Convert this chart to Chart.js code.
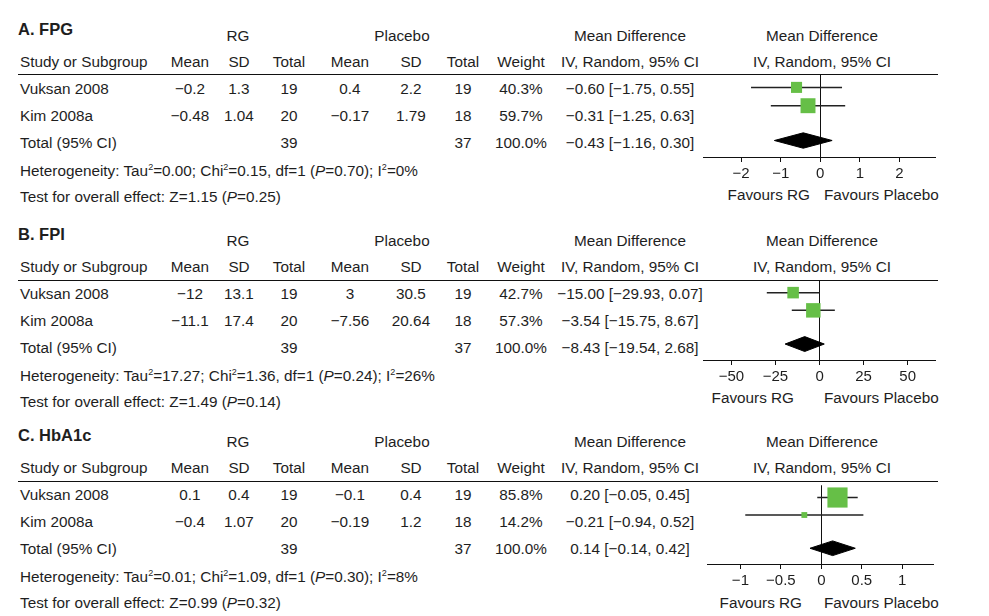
<!DOCTYPE html>
<html>
<head>
<meta charset="utf-8">
<script src="https://cdn.jsdelivr.net/npm/chart.js@4.4.1/dist/chart.umd.min.js"></script>
<style>
body { margin: 0; background: #fff; }
#page { position: relative; width: 989px; height: 616px; overflow: hidden;
        font-family: 'Liberation Sans', Arial, sans-serif; font-size: 15.3px; color: #1e1e1e; }
.t { position: absolute; white-space: nowrap; line-height: 18px; }
.t sup { font-size: 9px; vertical-align: 6px; line-height: 0; }
.rule { position: absolute; height: 1px; background: #111; left: 18px; width: 920px; }
canvas { position: absolute; }
</style>
</head>
<body>
<div id="page"></div>
<script>
const studies = ['Vuksan 2008', 'Kim 2008a']

// A. FPG
const fpgRgMean = [-0.2, -0.48]
const fpgRgSd = [1.3, 1.04]
const fpgRgN = [19, 20]
const fpgPlMean = [0.4, -0.17]
const fpgPlSd = [2.2, 1.79]
const fpgPlN = [19, 18]
const fpgWeight = [40.3, 59.7]
const fpgMd = [-0.60, -0.31]
const fpgLo = [-1.75, -1.25]
const fpgHi = [0.55, 0.63]
const fpgTotal = [-0.43, -1.16, 0.30]
const fpgHet = ['0.00', '0.15', 1, '0.70', 0]
const fpgTest = ['1.15', '0.25']
const fpgTicks = [-2, -1, 0, 1, 2]

// B. FPI
const fpiRgMean = [-12, -11.1]
const fpiRgSd = [13.1, 17.4]
const fpiRgN = [19, 20]
const fpiPlMean = [3, -7.56]
const fpiPlSd = [30.5, 20.64]
const fpiPlN = [19, 18]
const fpiWeight = [42.7, 57.3]
const fpiMd = [-15.00, -3.54]
const fpiLo = [-29.93, -15.75]
const fpiHi = [0.07, 8.67]
const fpiTotal = [-8.43, -19.54, 2.68]
const fpiHet = ['17.27', '1.36', 1, '0.24', 26]
const fpiTest = ['1.49', '0.14']
const fpiTicks = [-50, -25, 0, 25, 50]

// C. HbA1c
const hbaRgMean = [0.1, -0.4]
const hbaRgSd = [0.4, 1.07]
const hbaRgN = [19, 20]
const hbaPlMean = [-0.1, -0.19]
const hbaPlSd = [0.4, 1.2]
const hbaPlN = [19, 18]
const hbaWeight = [85.8, 14.2]
const hbaMd = [0.20, -0.21]
const hbaLo = [-0.05, -0.94]
const hbaHi = [0.45, 0.52]
const hbaTotal = [0.14, -0.14, 0.42]
const hbaHet = ['0.01', '1.09', 1, '0.30', 8]
const hbaTest = ['0.99', '0.32']
const hbaTicks = [-1, -0.5, 0, 0.5, 1]

const panels = [
  { title: 'A. FPG', rgMean: fpgRgMean, rgSd: fpgRgSd, rgN: fpgRgN, plMean: fpgPlMean, plSd: fpgPlSd, plN: fpgPlN,
    weight: fpgWeight, md: fpgMd, lo: fpgLo, hi: fpgHi, total: fpgTotal, het: fpgHet, test: fpgTest, ticks: fpgTicks,
    min: -2.95, max: 2.9, off: 0, lineY: 74, axisY: 160, favY: 195, favRG: 810 },
  { title: 'B. FPI', rgMean: fpiRgMean, rgSd: fpiRgSd, rgN: fpiRgN, plMean: fpiPlMean, plSd: fpiPlSd, plN: fpiPlN,
    weight: fpiWeight, md: fpiMd, lo: fpiLo, hi: fpiHi, total: fpiTotal, het: fpiHet, test: fpiTest, ticks: fpiTicks,
    min: -66, max: 65.5, off: 204.5, lineY: 280, axisY: 363, favY: 398, favRG: 794 },
  { title: 'C. HbA1c', rgMean: hbaRgMean, rgSd: hbaRgSd, rgN: hbaRgN, plMean: hbaPlMean, plSd: hbaPlSd, plN: hbaPlN,
    weight: hbaWeight, md: hbaMd, lo: hbaLo, hi: hbaHi, total: hbaTotal, het: hbaHet, test: hbaTest, ticks: hbaTicks,
    min: -1.41, max: 1.39, off: 405.5, lineY: 481, axisY: 567, favY: 603, favRG: 802 }
]

const page = document.getElementById('page')
const green = '#66bf47'
const minus = v => String(v).replace('-', '\u2212')
const ci = (m, l, h) => minus(m.toFixed(2)) + ' [' + minus(l.toFixed(2)) + ', ' + minus(h.toFixed(2)) + ']'

function put(x, y, html, align, style) {
  const d = document.createElement('div')
  d.className = 't'
  d.innerHTML = html
  d.style.top = (y - 9) + 'px'
  if (align === 'c') { d.style.left = x + 'px'; d.style.transform = 'translateX(-50%)' }
  else if (align === 'r') d.style.right = (989 - x) + 'px'
  else d.style.left = x + 'px'
  if (style) d.style.cssText += style
  page.appendChild(d)
}

// column centres of the table
const cols = { mean1: 190, sd1: 239, n1: 289, mean2: 350, sd2: 411, n2: 463, weight: 521, ci: 630, plot: 822 }

function table(p) {
  const o = p.off
  put(18, 29 + o, p.title, 'l', 'font-weight:bold;font-size:16.5px;')
  put(238, 36 + o, 'RG', 'c')
  put(402, 36 + o, 'Placebo', 'c')
  put(cols.ci, 36 + o, 'Mean Difference', 'c')
  put(cols.plot, 36 + o, 'Mean Difference', 'c')
  put(20, 62 + o, 'Study or Subgroup')
  put(cols.mean1, 62 + o, 'Mean', 'c')
  put(cols.sd1, 62 + o, 'SD', 'c')
  put(cols.n1, 62 + o, 'Total', 'c')
  put(cols.mean2, 62 + o, 'Mean', 'c')
  put(cols.sd2, 62 + o, 'SD', 'c')
  put(cols.n2, 62 + o, 'Total', 'c')
  put(cols.weight, 62 + o, 'Weight', 'c')
  put(cols.ci, 62 + o, 'IV, Random, 95% CI', 'c')
  put(cols.plot, 62 + o, 'IV, Random, 95% CI', 'c')
  const rule = document.createElement('div')
  rule.className = 'rule'
  rule.style.top = p.lineY + 'px'
  page.appendChild(rule)

  studies.forEach((s, k) => {
    const y = 89 + k * 27 + o
    put(20, y, s)
    put(cols.mean1, y, minus(p.rgMean[k]), 'c')
    put(cols.sd1, y, minus(p.rgSd[k]), 'c')
    put(cols.n1, y, p.rgN[k], 'c')
    put(cols.mean2, y, minus(p.plMean[k]), 'c')
    put(cols.sd2, y, minus(p.plSd[k]), 'c')
    put(cols.n2, y, p.plN[k], 'c')
    put(cols.weight, y, p.weight[k].toFixed(1) + '%', 'c')
    put(cols.ci, y, ci(p.md[k], p.lo[k], p.hi[k]), 'c')
  })
  const yt = 143 + o
  put(20, yt, 'Total (95% CI)')
  put(cols.n1, yt, p.rgN[0] + p.rgN[1], 'c')
  put(cols.n2, yt, p.plN[0] + p.plN[1], 'c')
  put(cols.weight, yt, '100.0%', 'c')
  put(cols.ci, yt, ci(p.total[0], p.total[1], p.total[2]), 'c')
  const h = p.het
  put(20, 171 + o, 'Heterogeneity: Tau<sup>2</sup>=' + h[0] + '; Chi<sup>2</sup>=' + h[1] + ', df=' + h[2] +
    ' (<i>P</i>=' + h[3] + '); I<sup>2</sup>=' + h[4] + '%')
  put(20, 197 + o, 'Test for overall effect: Z=' + p.test[0] + ' (<i>P</i>=' + p.test[1] + ')')
  put(p.favRG, p.favY, 'Favours RG', 'r')
  put(824, p.favY, 'Favours Placebo', 'l')
}

const squareSide = w => 3 + 0.2 * w

function forest(p) {
  const cv = document.createElement('canvas')
  cv.width = 255
  cv.height = 10 + (p.axisY - p.lineY) + 26
  cv.style.left = '693px'
  cv.style.top = (p.lineY - 10) + 'px'
  page.appendChild(cv)

  const rows = [1, 2]
  const totalRow = 3.9
  const [est, tlo, thi] = p.total
  const datasets = []
  datasets.push({
    data: p.md.map((m, k) => ({ x: m, y: rows[k] })),
    showLine: false, pointStyle: 'rect',
    pointRadius: c => squareSide(p.weight[c.dataIndex]) / Math.SQRT2,
    pointBackgroundColor: green, pointBorderWidth: 0
  })
  p.lo.forEach((lo, k) => datasets.push({
    data: [{ x: lo, y: rows[k] }, { x: p.hi[k], y: rows[k] }],
    borderColor: '#222', borderWidth: 1.5, pointRadius: 0
  }))
  datasets.push({
    data: [{ x: tlo, y: totalRow }, { x: est, y: totalRow - 0.42 }, { x: thi, y: totalRow }],
    borderColor: '#000', borderWidth: 1, pointRadius: 0, fill: false
  })
  datasets.push({
    data: [{ x: tlo, y: totalRow }, { x: est, y: totalRow + 0.42 }, { x: thi, y: totalRow }],
    borderColor: '#000', borderWidth: 1, pointRadius: 0, fill: '-1', backgroundColor: '#000'
  })

  new Chart(cv, {
    type: 'line',
    data: { datasets },
    options: {
      responsive: false,
      animation: false,
      events: [],
      clip: false,
      layout: { padding: { left: 10, right: 13, top: 10, bottom: 0 } },
      plugins: { legend: { display: false }, tooltip: { enabled: false } },
      scales: {
        x: {
          type: 'linear', min: p.min, max: p.max,
          afterBuildTicks: s => { s.ticks = p.ticks.map(v => ({ value: v })) },
          grid: {
            color: c => (c.tick && c.tick.value === 0) ? '#111' : 'rgba(0,0,0,0)',
            tickColor: '#111', tickLength: 5, lineWidth: 1
          },
          border: { color: '#111', width: 1 },
          ticks: {
            color: '#1e1e1e', padding: 3, autoSkip: false, maxRotation: 0,
            font: { family: "'Liberation Sans', Arial, sans-serif", size: 15 },
            callback: v => minus(v)
          }
        },
        y: { type: 'linear', reverse: true, min: 0.3, max: 4.8, display: false }
      }
    }
  })
}

panels.forEach(p => { table(p); forest(p) })
</script>
</body>
</html>
